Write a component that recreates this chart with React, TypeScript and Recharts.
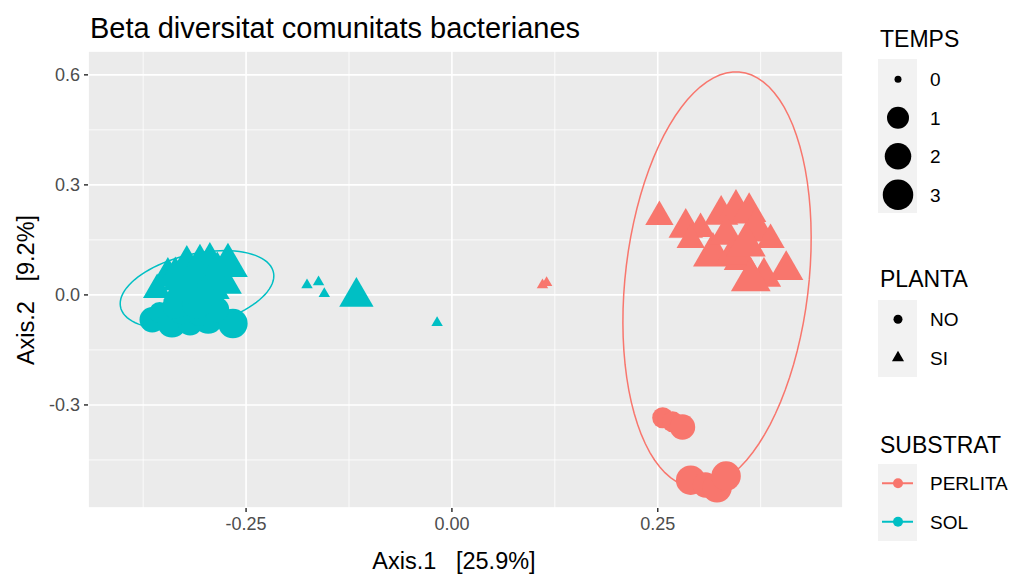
import { ScatterChart, Scatter, XAxis, YAxis, CartesianGrid } from 'recharts';

const FONT = '"Liberation Sans", Arial, sans-serif';

const X_DOMAIN = [-0.442, 0.475];
const Y_DOMAIN = [-0.581, 0.665];
const X_TICKS = [-0.25, 0, 0.25];
const X_MINOR = [-0.375, -0.125, 0.125, 0.375];
const Y_TICKS = [-0.3, 0, 0.3, 0.6];
const Y_MINOR = [-0.45, -0.15, 0.15, 0.45];

const TEMPS = [0, 1, 2, 3];
const PLANTA = ['NO', 'SI'];
const SUBSTRAT = ['PERLITA', 'SOL'];
const COLORS: Record<string, string> = { PERLITA: '#F8766D', SOL: '#00BFC4' };
// point diameter (px) for each TEMPS level
const SIZE_PX = [8.5, 21, 25.5, 29.5];

// [Axis.1, Axis.2, TEMPS]
const solNo = [
  [-0.364, -0.068, 2], [-0.355, -0.048, 1], [-0.34, -0.076, 3], [-0.318, -0.076, 2],
  [-0.296, -0.066, 3], [-0.266, -0.078, 3], [-0.328, -0.045, 2], [-0.306, -0.05, 2],
  [-0.286, -0.04, 2], [-0.336, -0.03, 2], [-0.31, -0.025, 3],
];
const solSi = [
  [-0.358, 0.014, 1], [-0.345, 0.049, 2], [-0.336, 0.06, 1], [-0.322, 0.082, 2],
  [-0.306, 0.095, 1], [-0.294, 0.09, 2], [-0.285, 0.074, 1], [-0.272, 0.08, 3],
  [-0.314, 0.025, 2], [-0.294, 0.02, 3], [-0.33, 0.012, 2], [-0.276, 0.03, 2],
  [-0.33, 0.04, 2], [-0.31, 0.06, 2], [-0.29, 0.05, 2], [-0.3, 0.0, 2],
  [-0.176, 0.027, 0], [-0.162, 0.035, 0], [-0.155, 0.003, 0], [-0.018, -0.076, 0],
  [-0.116, -0.005, 2],
];
const perlitaNo = [
  [0.256, -0.335, 1], [0.268, -0.346, 1], [0.28, -0.36, 2], [0.29, -0.505, 3],
  [0.308, -0.518, 2], [0.322, -0.526, 3], [0.333, -0.494, 3],
];
const perlitaSi = [
  [0.252, 0.213, 1], [0.284, 0.183, 2], [0.302, 0.18, 1], [0.327, 0.218, 2],
  [0.345, 0.226, 3], [0.361, 0.226, 2], [0.369, 0.177, 3], [0.387, 0.15, 1],
  [0.317, 0.109, 3], [0.351, 0.095, 2], [0.379, 0.049, 2], [0.406, 0.068, 2],
  [0.29, 0.15, 1], [0.333, 0.164, 2], [0.341, 0.109, 2], [0.357, 0.136, 3],
  [0.363, 0.041, 3], [0.11, 0.027, 0], [0.115, 0.033, 0],
];

// stat_ellipse outlines: centre plus two conjugate semi-axes (data units)
const solEllipse = { cx: -0.3096, cy: 0.014, ux: 0.0925, uy: 0.0245, vx: 0.0122, vy: 0.104 };
const perlitaEllipse = { cx: 0.322, cy: 0.041, ux: 0.112, uy: 0, vx: 0.023, vy: 0.567 };

type Pt = { x: number; y: number; t: number };
const toPts = (rows: number[][]): Pt[] => rows.map(([x, y, t]) => ({ x, y, t }));

const ellipsePath = (e: typeof solEllipse) => {
  const out: { x: number; y: number }[] = [];
  for (let i = 0; i <= 90; i++) {
    const a = (i / 90) * Math.PI * 2;
    out.push({
      x: e.cx + e.ux * Math.cos(a) + e.vx * Math.sin(a),
      y: e.cy + e.uy * Math.cos(a) + e.vy * Math.sin(a),
    });
  }
  return out;
};

// R's pch 16 / pch 17 geometry (equal-area circle and triangle)
const Mark = ({ cx, cy, r, fill, tri }: any) => {
  if (tri) {
    const pts = `${cx},${cy - 1.555 * r} ${cx + 1.347 * r},${cy + 0.778 * r} ${cx - 1.347 * r},${cy + 0.778 * r}`;
    return <polygon points={pts} fill={fill} />;
  }
  return <circle cx={cx} cy={cy} r={r} fill={fill} />;
};

const pointShape = (fill: string, tri: boolean) => (props: any) => {
  const p = props.payload ?? props;
  return <Mark cx={props.cx} cy={props.cy} r={SIZE_PX[p.t] / 2} fill={fill} tri={tri} />;
};

const Legend = () => {
  const keyX = 878;
  const keyW = 39;
  const rowH = 38.5;
  const labelX = 930;
  return (
    <svg
      width={1021}
      height={576}
      style={{ position: 'absolute', left: 0, top: 0, pointerEvents: 'none', fontFamily: FONT }}
    >
      <text x={90} y={38} fontSize={29} fill="#000">Beta diversitat comunitats bacterianes</text>
      <text x={454} y={569} fontSize={23.5} fill="#000" textAnchor="middle" style={{ whiteSpace: 'pre' }}>
        {'Axis.1   [25.9%]'}
      </text>
      <text
        x={0}
        y={0}
        fontSize={23.5}
        fill="#000"
        textAnchor="middle"
        style={{ whiteSpace: 'pre' }}
        transform="translate(34 290) rotate(-90)"
      >
        {'Axis.2   [9.2%]'}
      </text>

      <text x={880} y={47} fontSize={23}>TEMPS</text>
      <rect x={keyX} y={59} width={keyW} height={rowH * TEMPS.length} fill="#F2F2F2" />
      {TEMPS.map((t, i) => (
        <g key={t}>
          <circle cx={898} cy={60 + rowH * (i + 0.5)} r={(i === 0 ? 7 : SIZE_PX[t] + 1) / 2} fill="#000" />
          <text x={labelX} y={60 + rowH * (i + 0.5) + 7} fontSize={19}>{t}</text>
        </g>
      ))}

      <text x={880} y={287} fontSize={23}>PLANTA</text>
      <rect x={keyX} y={300} width={keyW} height={rowH * PLANTA.length} fill="#F2F2F2" />
      {PLANTA.map((p, i) => (
        <g key={p}>
          <Mark cx={898} cy={300 + rowH * (i + 0.5)} r={4.5} fill="#000" tri={p === 'SI'} />
          <text x={labelX} y={300 + rowH * (i + 0.5) + 7} fontSize={19}>{p}</text>
        </g>
      ))}

      <text x={880} y={453} fontSize={23}>SUBSTRAT</text>
      <rect x={keyX} y={464} width={keyW} height={rowH * SUBSTRAT.length} fill="#F2F2F2" />
      {SUBSTRAT.map((s, i) => {
        const cy = 464 + rowH * (i + 0.5);
        return (
          <g key={s}>
            <line x1={882} x2={913} y1={cy} y2={cy} stroke={COLORS[s]} strokeWidth={2} />
            <circle cx={898} cy={cy} r={5} fill={COLORS[s]} />
            <text x={labelX} y={cy + 7} fontSize={19}>{s}</text>
          </g>
        );
      })}
    </svg>
  );
};

const tickStyle = { fill: '#4D4D4D', fontSize: 18, fontFamily: FONT };

export default function App() {
  return (
    <div style={{ position: 'absolute', left: 0, top: 0, width: 1021, height: 576, background: '#fff' }}>
      <ScatterChart width={1021} height={576} margin={{ top: 51, right: 178, bottom: 0, left: 0 }}>
        <XAxis xAxisId="minor" type="number" dataKey="x" domain={X_DOMAIN} ticks={X_MINOR} allowDataOverflow hide />
        <YAxis yAxisId="minor" type="number" dataKey="y" domain={Y_DOMAIN} ticks={Y_MINOR} allowDataOverflow hide />
        <XAxis
          type="number"
          dataKey="x"
          domain={X_DOMAIN}
          ticks={X_TICKS}
          allowDataOverflow
          height={68}
          axisLine={false}
          tickSize={4}
          tickMargin={5}
          tickLine={{ stroke: '#333', strokeWidth: 1.5 }}
          tick={tickStyle}
          tickFormatter={(v: number) => v.toFixed(2)}
        />
        <YAxis
          type="number"
          dataKey="y"
          domain={Y_DOMAIN}
          ticks={Y_TICKS}
          allowDataOverflow
          width={88}
          axisLine={false}
          tickSize={4}
          tickMargin={4}
          tickLine={{ stroke: '#333', strokeWidth: 1.5 }}
          tick={tickStyle}
          tickFormatter={(v: number) => v.toFixed(1)}
        />
        <CartesianGrid xAxisId="minor" yAxisId="minor" stroke="#fff" strokeWidth={0.8} fill="#EBEBEB" />
        <CartesianGrid stroke="#fff" strokeWidth={1.6} />
        <Scatter
          data={ellipsePath(perlitaEllipse)}
          line={{ stroke: COLORS.PERLITA, strokeWidth: 1.5 }}
          shape={() => <g />}
          isAnimationActive={false}
        />
        <Scatter
          data={ellipsePath(solEllipse)}
          line={{ stroke: COLORS.SOL, strokeWidth: 1.5 }}
          shape={() => <g />}
          isAnimationActive={false}
        />
        <Scatter data={toPts(perlitaSi)} shape={pointShape(COLORS.PERLITA, true)} isAnimationActive={false} />
        <Scatter data={toPts(perlitaNo)} shape={pointShape(COLORS.PERLITA, false)} isAnimationActive={false} />
        <Scatter data={toPts(solNo)} shape={pointShape(COLORS.SOL, false)} isAnimationActive={false} />
        <Scatter data={toPts(solSi)} shape={pointShape(COLORS.SOL, true)} isAnimationActive={false} />
      </ScatterChart>
      <Legend />
    </div>
  );
}
